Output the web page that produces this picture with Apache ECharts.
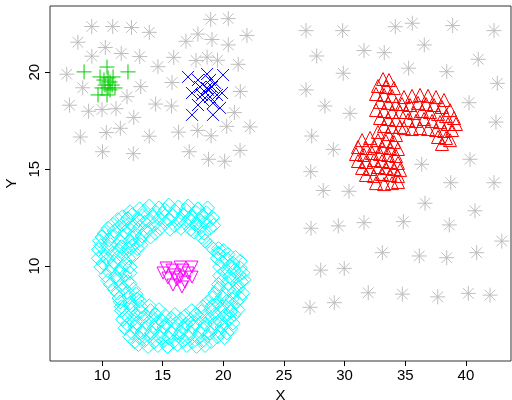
<!DOCTYPE html>
<html><head><meta charset="utf-8">
<script src="https://cdn.jsdelivr.net/npm/echarts@6/dist/echarts.min.js"></script>
<style>html,body{margin:0;padding:0;background:#fff}#c{width:512px;height:400px}</style>
</head><body><div id="c"></div>
<script>
const xTicks = [10, 15, 20, 25, 30, 35, 40];
const yTicks = [10, 15, 20];

const noisePts = [
 [9.15,22.36],[10.88,22.36],[12.43,22.31],[13.90,22.06],[8.01,21.55],[10.27,21.28],[9.16,20.83],[11.58,20.97],
 [13.11,20.81],[7.09,19.90],[14.61,20.29],[8.41,19.20],[13.19,19.26],[12.06,18.74],[7.32,18.30],[8.89,17.99],
 [10.00,18.08],[11.15,18.12],[14.42,18.36],[12.62,17.67],[15.77,19.47],[15.73,18.26],[15.91,20.77],[8.21,16.66],
 [10.35,16.89],[11.51,17.11],[13.89,16.70],[10.04,15.90],[12.58,15.80],[16.31,16.91],
 [18.96,22.73],[20.41,22.77],[17.91,21.97],[16.92,21.60],[19.07,21.69],[20.41,21.41],[21.95,21.90],[17.75,20.61],
 [18.66,20.78],[19.52,20.62],[21.23,20.41],[21.40,19.01],[20.91,17.92],[20.28,17.21],[22.20,17.18],[17.89,17.00],
 [18.99,16.72],[17.19,15.90],[21.38,15.97],[18.78,15.51],[20.11,15.41],
 [26.82,22.15],[29.84,22.15],[34.18,22.35],[35.58,22.53],[38.91,22.41],[42.32,22.15],[27.70,20.84],[31.60,21.12],
 [33.27,21.01],[36.57,21.41],[41.02,20.67],[29.89,19.95],[35.28,20.21],[38.42,20.03],[26.82,19.09],[42.59,19.43],
 [28.38,18.26],[30.45,17.88],[40.26,18.43],[42.48,17.43],[27.29,16.71],[29.07,16.02],[27.21,14.87],[28.24,13.90],
 [30.36,13.86],[36.36,15.25],[40.34,15.51],[38.75,14.30],[42.32,14.30],[36.63,13.24],[40.75,12.85],[27.23,11.95],
 [29.48,12.07],[31.60,12.24],[34.84,12.29],[38.63,12.12],[42.96,11.29],[33.11,10.69],[36.16,10.52],[38.42,10.43],
 [40.89,10.69],[28.03,9.79],[29.97,9.88],[27.15,7.87],[29.15,8.11],[31.95,8.62],[34.76,8.55],[37.68,8.41],
 [40.20,8.59],[41.99,8.50]
];

const greenPts = [
 [8.52,20.02],[12.14,20.02],[10.41,20.27],[9.84,19.76],[10.91,19.76],[10.66,19.50],[10.25,19.34],[10.83,19.34],
 [10.50,19.19],[9.67,18.83],[10.41,18.83],[10.16,19.60],[10.66,19.09],[11.07,19.19],[10.00,19.19],[10.50,19.71]
];

const bluePts = [
 [17.09,19.76],[18.66,19.91],[19.98,19.86],[17.91,19.60],[18.90,19.60],[19.32,19.45],[18.08,19.24],[18.66,19.19],
 [17.42,18.93],[19.89,18.93],[18.90,18.72],[19.48,18.83],[18.33,18.57],[19.15,18.41],[17.42,17.80],[19.15,17.80],
 [19.73,18.16],[18.49,18.98],[18.74,19.09],[19.07,19.24],[18.24,18.83],[17.91,18.31]
];

const ringPts = [
 [13.1,12.95],[13.9,13.1],[14.7,13.0],[15.5,13.15],[16.3,13.05],[17.1,13.1],[17.9,12.95],[18.7,13.0],
 [12.3,12.8],[13.5,12.85],[14.4,12.8],[15.2,12.9],[16.0,12.85],[16.9,12.9],[17.7,12.8],[18.6,12.75],
 [11.7,12.55],[12.5,12.65],[13.3,12.6],[14.2,12.55],[15.0,12.7],[15.8,12.6],[16.7,12.65],[17.5,12.55],[18.3,12.6],[19.1,12.5],
 [11.3,12.4],[12.1,12.45],[13.0,12.4],[13.8,12.35],[14.7,12.45],[15.5,12.4],[16.4,12.35],[17.2,12.45],[18.0,12.4],[18.9,12.35],
 [10.9,12.15],[11.8,12.2],[12.6,12.1],[13.5,12.25],[14.3,12.15],[15.2,12.2],[16.0,12.1],[16.9,12.2],[17.7,12.15],[18.5,12.25],[19.2,12.1],
 [10.5,11.95],[11.4,12.0],[12.2,11.95],[13.1,12.0],[13.9,11.9],[14.8,11.95],[15.6,11.9],[16.5,11.95],[17.3,11.9],[18.1,12.0],[18.9,11.95],
 [10.2,11.7],[11.0,11.8],[11.9,11.75],[12.7,11.7],[13.6,11.8],[14.4,11.7],[17.6,11.75],[18.4,11.7],
 [10.0,11.5],[10.8,11.55],[11.7,11.5],[12.5,11.45],[13.3,11.55],[14.0,11.5],[18.2,11.5],
 [9.8,11.3],[10.6,11.35],[11.5,11.25],[12.3,11.3],[13.1,11.35],[18.5,11.3],
 [9.9,11.05],[10.7,11.1],[11.6,11.0],[12.5,11.05],[13.2,11.1],[18.9,11.05],[19.6,10.9],
 [9.7,10.85],[10.5,10.9],[11.4,10.8],[12.2,10.85],[12.9,10.9],[19.2,10.85],[20.0,10.8],
 [10.1,10.6],[10.9,10.65],[11.8,10.6],[12.6,10.55],[19.6,10.65],[20.4,10.6],
 [9.7,10.4],[10.5,10.35],[11.3,10.45],[12.2,10.4],[19.5,10.4],[20.3,10.35],[21.0,10.45],
 [10.1,10.15],[11.0,10.2],[11.9,10.1],[19.9,10.2],[20.8,10.15],[21.4,10.25],
 [9.9,9.95],[10.8,10.0],[11.6,9.9],[12.3,9.95],[19.7,9.95],[20.5,10.0],[21.4,9.9],
 [10.6,9.7],[11.5,9.75],[12.3,9.65],[20.1,9.7],[20.9,9.75],[21.6,9.65],
 [10.3,9.5],[11.1,9.45],[11.9,9.55],[19.7,9.5],[20.5,9.45],[21.3,9.55],[21.7,9.3],
 [10.5,9.25],[11.3,9.3],[12.1,9.2],[19.9,9.25],[20.8,9.3],[21.5,9.2],
 [10.7,9.05],[11.5,9.0],[12.3,9.1],[19.6,9.05],[20.4,9.1],[21.2,9.0],
 [11.0,8.8],[11.8,8.85],[12.6,8.8],[19.6,8.85],[20.4,8.8],[21.2,8.85],
 [11.3,8.6],[12.1,8.65],[12.8,8.55],[19.3,8.6],[20.1,8.55],[20.9,8.65],[21.6,8.6],
 [11.4,8.35],[12.2,8.4],[12.9,8.3],[19.1,8.35],[19.9,8.4],[20.7,8.3],[21.4,8.35],
 [11.5,8.15],[12.3,8.1],[13.1,8.2],[18.7,8.15],[19.5,8.1],[20.3,8.2],[21.1,8.15],
 [11.6,7.9],[12.4,7.95],[13.2,7.9],[13.9,7.95],[18.3,7.9],[19.1,7.95],[19.9,7.9],[20.7,7.95],
 [11.6,7.7],[12.4,7.75],[13.2,7.65],[14.0,7.7],[14.7,7.75],[17.4,7.7],[18.2,7.65],[19.0,7.75],[19.8,7.7],[20.6,7.65],[21.2,7.75],
 [12.0,7.45],[12.8,7.5],[13.6,7.45],[14.4,7.5],[15.2,7.45],[16.0,7.5],[16.9,7.45],[17.7,7.5],[18.5,7.45],[19.3,7.5],[20.1,7.45],[20.9,7.5],
 [11.7,7.25],[12.5,7.2],[13.3,7.3],[14.1,7.25],[14.9,7.2],[15.7,7.3],[16.5,7.25],[17.3,7.2],[18.1,7.3],[18.9,7.25],[19.7,7.2],[20.5,7.3],
 [12.1,7.0],[12.9,7.05],[13.7,7.0],[14.5,7.05],[15.3,7.0],[16.1,7.05],[16.9,7.0],[17.7,7.05],[18.5,7.0],[19.3,7.05],[20.1,7.0],[20.8,7.05],
 [11.9,6.8],[12.7,6.85],[13.5,6.75],[14.3,6.8],[15.1,6.85],[15.9,6.75],[16.7,6.8],[17.5,6.85],[18.3,6.75],[19.1,6.8],[19.9,6.85],[20.6,6.75],
 [12.5,6.55],[13.3,6.6],[14.1,6.55],[14.9,6.6],[15.7,6.55],[16.5,6.6],[17.3,6.55],[18.1,6.6],[18.9,6.55],[19.7,6.6],[20.3,6.55],
 [12.3,6.35],[13.1,6.3],[13.9,6.4],[14.7,6.35],[15.5,6.3],[16.3,6.4],[17.1,6.35],[17.9,6.3],[18.7,6.4],[19.5,6.35],[20.1,6.3],
 [12.7,6.1],[13.5,6.15],[14.3,6.1],[15.1,6.15],[15.9,6.1],[16.7,6.15],[17.5,6.1],[18.3,6.15],[19.0,6.1],
 [13.0,5.95],[13.8,5.85],[14.6,5.9],[15.4,5.85],[16.2,5.95],[17.0,5.9],[17.8,5.85],[18.5,5.9]
];

const innerPts = [
 [15.03,9.64],[15.77,9.79],[16.43,9.95],[17.42,9.95],[15.44,9.38],[16.18,9.28],[16.84,9.17],[17.42,9.43],
 [15.85,9.02],[16.59,8.92],[17.09,9.64],[16.68,9.79],[16.02,9.54],[16.43,9.43],[15.28,9.90]
];

const redPts = [
 [33.17,19.65],[33.66,19.60],[32.75,19.29],[33.41,19.24],[34.07,19.19],[32.59,18.88],[33.25,18.83],[33.91,18.78],
 [32.92,18.47],[33.58,18.42],[34.24,18.36],[32.59,18.05],[33.25,18.00],[33.91,17.95],[34.57,17.95],[32.92,17.64],
 [33.58,17.59],[34.24,17.54],[33.25,17.23],[33.91,17.18],[34.57,17.18],[32.75,16.92],[33.58,16.81],[34.24,16.76],
 [34.90,18.72],[35.56,18.78],[36.22,18.83],[36.88,18.78],[37.54,18.72],[38.20,18.57],
 [34.73,18.36],[35.39,18.31],[36.05,18.42],[36.71,18.36],[37.37,18.31],[38.03,18.21],[38.69,18.05],
 [35.06,17.95],[35.72,17.90],[36.38,18.00],[37.04,17.95],[37.70,17.85],[38.36,17.74],[39.02,17.64],
 [35.23,17.54],[35.89,17.49],[36.55,17.59],[37.21,17.49],[37.87,17.43],[38.53,17.33],[39.18,17.33],
 [34.90,17.12],[35.56,17.07],[36.22,17.12],[36.88,17.07],[37.54,17.02],[38.20,16.97],[38.86,17.02],
 [37.70,16.66],[38.36,16.61],[38.03,16.30],[38.69,16.50],
 [31.44,16.50],[32.10,16.61],[32.75,16.50],[33.41,16.45],[34.07,16.40],
 [31.10,16.14],[31.76,16.09],[32.42,16.20],[33.08,16.14],[33.75,16.09],[34.40,16.04],
 [30.94,15.78],[31.60,15.73],[32.26,15.83],[32.92,15.78],[33.58,15.73],[34.24,15.68],
 [31.10,15.42],[31.76,15.37],[32.42,15.47],[33.08,15.42],[33.75,15.37],[34.40,15.32],
 [31.44,15.06],[32.10,15.01],[32.75,15.11],[33.41,15.06],[34.07,15.01],[34.57,14.96],
 [31.76,14.70],[32.42,14.65],[33.08,14.75],[33.75,14.70],[34.40,14.65],
 [32.59,14.28],[33.25,14.23],[33.91,14.28],[34.40,14.34]
];

const STAR = 'path://M0,5L10,5M5,0L5,10M1.46,1.46L8.54,8.54M8.54,1.46L1.46,8.54';
const PLUS = 'path://M0,5L10,5M5,0L5,10';
const CROSS = 'path://M0,0L10,10M10,0L0,10';

function sc(data, symbol, size, color, rot) {
  return {
    type: 'scatter', data: data, symbol: symbol, symbolSize: size, symbolRotate: rot || 0,
    itemStyle: { color: 'rgba(0,0,0,0)', borderColor: color, borderWidth: 1, opacity: 1 },
    emphasis: { disabled: true }, silent: true
  };
}

const chart = echarts.init(document.getElementById('c'), null, { renderer: 'canvas' });
const font = '"Liberation Sans", Arial, sans-serif';
chart.setOption({
  animation: false,
  backgroundColor: '#fff',
  grid: { left: 50, right: 1, top: 6, bottom: 39, show: true, borderColor: '#333', borderWidth: 1, outerBoundsMode: 'none' },
  xAxis: {
    type: 'value', min: 5.71, max: 43.72,
    name: 'X', nameLocation: 'middle', nameGap: 25,
    nameTextStyle: { fontFamily: font, fontSize: 15, color: '#000' },
    axisLine: { show: false },
    axisTick: { show: true, length: 5, inside: false, customValues: xTicks, lineStyle: { color: '#000' } },
    axisLabel: { customValues: xTicks, fontFamily: font, fontSize: 15, color: '#000', margin: 7 },
    splitLine: { show: false }
  },
  yAxis: {
    type: 'value', min: 5.10, max: 23.42,
    name: 'Y', nameLocation: 'middle', nameGap: 28, nameRotate: 90,
    nameTextStyle: { fontFamily: font, fontSize: 15, color: '#000' },
    axisLine: { show: false },
    axisTick: { show: true, length: 5, inside: false, customValues: yTicks, lineStyle: { color: '#000' } },
    axisLabel: { customValues: yTicks, rotate: 90, fontFamily: font, fontSize: 15, color: '#000', margin: 8 },
    splitLine: { show: false }
  },
  series: [
    sc(noisePts, STAR, 15, '#BEBEBE'),
    sc(greenPts, PLUS, 15, '#00CD00'),
    sc(bluePts, CROSS, 12, '#0000FF'),
    sc(ringPts, 'diamond', 14, '#00FFFF'),
    sc(innerPts, 'triangle', 12, '#FF00FF', 180),
    sc(redPts, 'triangle', 13, '#FF0000')
  ]
});
</script>
</body></html>
